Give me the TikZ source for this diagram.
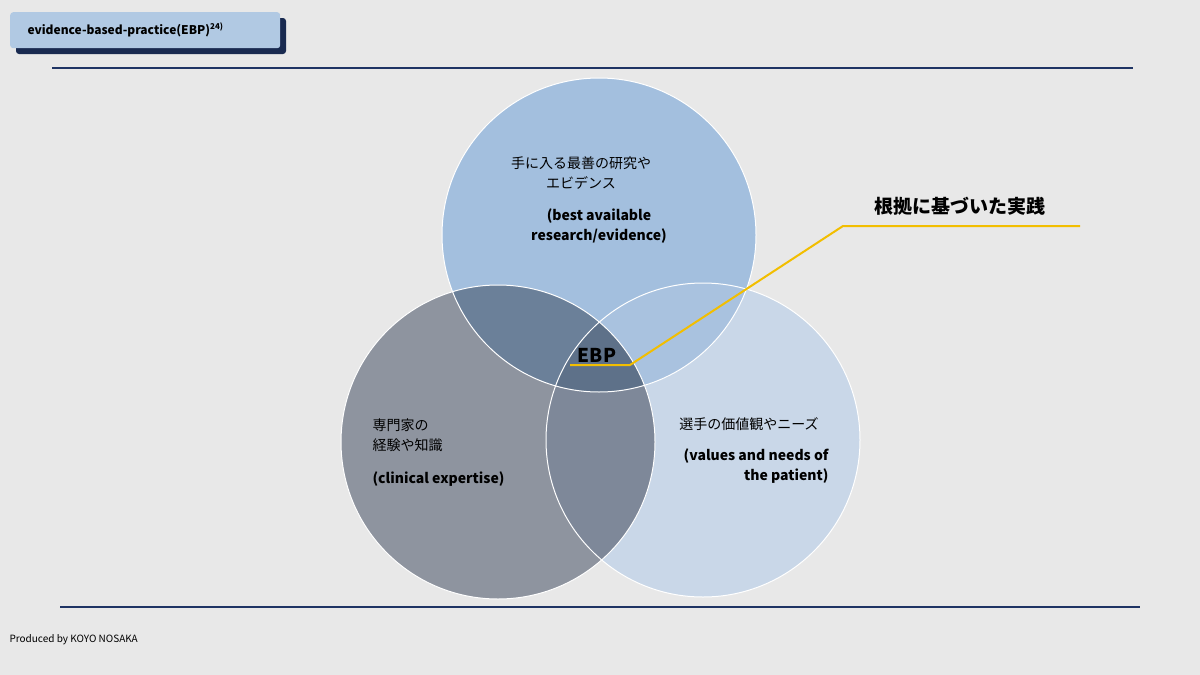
\documentclass[tikz,border=0pt]{standalone}
\usepackage{fontspec}
\setmainfont{Noto Sans CJK JP}
\begin{document}
\begin{tikzpicture}[x=1pt,y=-1pt,
  lbl/.style={font=\fontsize{14}{20}\selectfont,align=center},
  bl/.style={font=\fontsize{14}{20}\selectfont\bfseries,align=center}]
\definecolor{bg}{HTML}{E8E8E8}
\definecolor{navy}{HTML}{1F3464}
\definecolor{ctop}{HTML}{A3BFDE}
\definecolor{cleft}{HTML}{8E949F}
\definecolor{cright}{HTML}{C9D7E8}
\definecolor{ctl}{HTML}{6B8099}
\definecolor{ctr}{HTML}{A9C2DF}
\definecolor{clr}{HTML}{7E8899}
\definecolor{cmid}{HTML}{5E7189}
\definecolor{gold}{HTML}{F2BE00}
\fill[bg] (0,0) rectangle (1200,675);
\useasboundingbox (0,0) rectangle (1200,675);
% header
\fill[navy!80!black,rounded corners=3pt] (16,18) rectangle (286,54);
\node[fill=ctop!85!white,rounded corners=3pt,minimum width=270pt,minimum height=36pt,anchor=north west,inner sep=0pt] (hdr) at (10,12) {};
\node[font=\fontsize{12}{14}\selectfont\bfseries,anchor=west] (ht) at (24,30) {evidence-based-practice(EBP)\textsuperscript{24)}};
\draw[navy,line width=2.5pt] (52,68) -- (1133,68);
\draw[navy,line width=2.5pt] (60,607) -- (1140,607);
% circles
\def\CT{(599,235) circle (157)}
\def\CL{(498,442) circle (157)}
\def\CR{(703,440) circle (157)}
\fill[cright] \CR;
\fill[cleft] \CL;
\fill[ctop] \CT;
\begin{scope}\clip \CT; \fill[ctl] \CL; \fill[ctr] \CR; \end{scope}
\begin{scope}\clip \CL; \fill[clr] \CR; \end{scope}
\begin{scope}\clip \CT; \clip \CL; \fill[cmid] \CR; \end{scope}
\draw[white,line width=1pt] \CR; \draw[white,line width=1pt] \CL; \draw[white,line width=1pt] \CT;
\node (ct) at (599,0) {};
% texts
\node[lbl] (t1) at (581,173) {手に入る最善の研究や\\エビデンス};
\node[bl] (t2) at (599,226) {(best available\\research/evidence)};
\node[lbl,align=left,anchor=west] (l1) at (369,435) {専門家の\\経験や知識};
\node[bl,anchor=west] (l2) at (369,479) {(clinical expertise)};
\node[lbl] (r1) at (749,424) {選手の価値観やニーズ};
\node[bl,align=right,anchor=east] (r2) at (832,466) {(values and needs of\\the patient)};
\node[font=\fontsize{19}{22}\selectfont\bfseries] (ebp) at (597,355) {EBP};
\node[font=\fontsize{19}{22}\selectfont\bfseries] (jp) at (960,206) {根拠に基づいた実践};
\coordinate (a) at (570,365); \coordinate (b) at (630,365);
\coordinate (c) at (843,226); \coordinate (d) at (1080,226);
\draw[gold,line width=2pt] (a) -- (b) -- (c) -- (d);
\node[font=\fontsize{10}{12}\selectfont\itshape,anchor=west] (prod) at (6,640) {Produced by KOYO NOSAKA};
\end{tikzpicture}
\end{document}
